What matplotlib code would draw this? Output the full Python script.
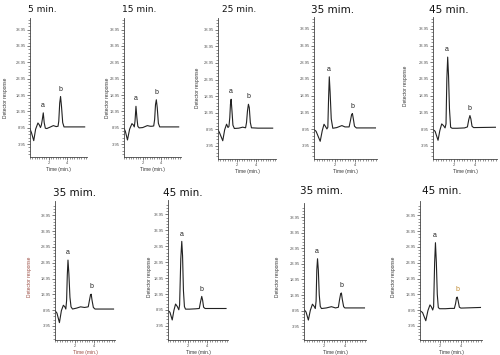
import numpy as np
import matplotlib
matplotlib.use("Agg")
import matplotlib.pyplot as plt
from matplotlib.ticker import FixedLocator, MultipleLocator

plt.rcParams['font.family'] = ['Liberation Sans', 'DejaVu Sans']

# ---------------- data ----------------
titles = ["5 min.", "15 min.", "25 min.", "35 mim.", "45 min.",
          "35 mim.", "45 min.", "35 mim.", "45 min."]

ytick_values = [3.95, 8.95, 13.95, 18.95, 23.95, 28.95, 33.95, 38.95]
ytick_labels = ["3.95", "8.95", "13.95", "18.95", "23.95", "28.95", "33.95", "38.95"]
xtick_values = [2, 4]
xtick_labels = ["2", "4"]

t1 = [0.0, 0.15, 0.4, 0.6, 0.85, 1.0, 1.12, 1.22, 1.32, 1.42, 1.52, 1.64, 1.8, 2.2, 2.5, 2.8, 3.0, 3.08, 3.18, 3.27, 3.37, 3.5, 3.64, 4.5, 5.85]
y1 = [8.6, 7.5, 5.0, 8.5, 10.4, 9.8, 9.0, 9.8, 11.5, 13.5, 10.5, 8.8, 8.7, 9.2, 9.6, 9.3, 9.4, 11.0, 16.5, 18.5, 15.5, 10.5, 9.2, 9.2, 9.2]

t2 = [0.0, 0.15, 0.37, 0.6, 0.85, 1.0, 1.1, 1.18, 1.28, 1.38, 1.48, 1.62, 2.0, 2.5, 2.8, 3.0, 3.18, 3.28, 3.37, 3.46, 3.56, 3.68, 3.82, 4.5, 5.85]
y2 = [8.8, 7.8, 5.2, 8.5, 10.2, 9.8, 9.2, 11.0, 15.5, 12.0, 9.4, 8.9, 9.0, 9.6, 9.4, 9.4, 9.5, 11.5, 16.0, 17.5, 15.0, 10.3, 9.2, 9.2, 9.2]

t3 = [0.0, 0.15, 0.5, 0.7, 0.9, 1.05, 1.15, 1.24, 1.31, 1.38, 1.47, 1.57, 1.72, 2.2, 2.6, 2.9, 3.0, 3.1, 3.2, 3.29, 3.4, 3.52, 4.2, 5.75]
y3 = [8.8, 8.0, 5.5, 8.8, 10.5, 9.5, 9.8, 12.5, 16.5, 18.0, 14.5, 10.2, 9.2, 9.3, 9.6, 9.4, 11.0, 14.5, 16.5, 15.5, 11.0, 9.4, 9.3, 9.3]

t4 = [0.0, 0.2, 0.6, 0.8, 0.97, 1.1, 1.25, 1.34, 1.41, 1.48, 1.56, 1.67, 1.82, 2.2, 2.7, 3.0, 3.4, 3.53, 3.64, 3.72, 3.81, 3.92, 4.1, 5.95]
y4 = [8.8, 8.3, 5.3, 8.5, 10.4, 9.8, 9.0, 9.5, 18.0, 24.6, 20.0, 12.0, 9.2, 9.4, 10.0, 9.6, 9.6, 11.5, 13.3, 13.6, 12.0, 9.8, 9.3, 9.3]

t5 = [0.0, 0.2, 0.48, 0.65, 0.83, 1.0, 1.15, 1.24, 1.32, 1.4, 1.48, 1.57, 1.68, 1.82, 2.3, 3.0, 3.28, 3.41, 3.52, 3.61, 3.72, 3.87, 5.95]
y5 = [8.8, 8.3, 5.6, 8.5, 10.5, 10.0, 9.3, 10.5, 24.0, 30.5, 25.0, 15.0, 9.5, 9.2, 9.2, 9.3, 9.6, 11.8, 13.0, 12.0, 9.8, 9.4, 9.5]

t6 = [0.0, 0.2, 0.45, 0.65, 0.85, 1.0, 1.1, 1.18, 1.25, 1.32, 1.41, 1.52, 1.63, 1.78, 2.2, 2.6, 3.0, 3.38, 3.5, 3.61, 3.68, 3.77, 3.9, 4.07, 5.95]
y6 = [8.8, 8.0, 5.0, 8.8, 10.5, 10.0, 9.3, 12.0, 20.0, 24.8, 20.5, 13.0, 10.0, 9.3, 9.6, 10.0, 9.8, 10.0, 12.0, 13.8, 14.0, 12.0, 9.8, 9.3, 9.3]

t7 = [0.0, 0.2, 0.43, 0.6, 0.77, 0.95, 1.1, 1.18, 1.3, 1.4, 1.48, 1.57, 1.67, 1.78, 2.2, 2.8, 3.18, 3.31, 3.43, 3.52, 3.62, 3.77, 5.9]
y7 = [8.8, 8.2, 5.8, 8.8, 10.8, 10.0, 9.0, 10.5, 25.0, 30.5, 26.0, 15.0, 10.0, 9.2, 9.2, 9.3, 9.4, 11.5, 13.2, 12.0, 9.8, 9.4, 9.4]

t8 = [0.0, 0.2, 0.43, 0.62, 0.83, 1.0, 1.11, 1.19, 1.26, 1.33, 1.41, 1.5, 1.6, 1.72, 2.2, 2.7, 3.1, 3.38, 3.5, 3.61, 3.68, 3.77, 3.9, 4.02, 5.95]
y8 = [9.3, 8.5, 5.9, 9.0, 11.0, 10.3, 9.6, 12.0, 22.0, 25.6, 22.0, 14.0, 10.3, 9.6, 9.8, 10.2, 9.8, 10.0, 12.5, 14.4, 14.6, 12.5, 10.2, 9.8, 9.8]

t9 = [0.0, 0.25, 0.57, 0.78, 0.98, 1.12, 1.25, 1.34, 1.44, 1.52, 1.61, 1.7, 1.8, 1.92, 2.5, 3.0, 3.38, 3.5, 3.59, 3.66, 3.75, 3.87, 4.02, 5.95]
y9 = [8.8, 8.2, 5.6, 8.8, 10.6, 10.0, 9.0, 10.0, 24.0, 30.3, 24.0, 14.0, 9.8, 9.4, 9.4, 9.5, 9.5, 11.0, 12.8, 13.1, 12.0, 9.9, 9.6, 9.8]

times = [t1, t2, t3, t4, t5, t6, t7, t8, t9]
responses = [y1, y2, y3, y4, y5, y6, y7, y8, y9]

# ---------------- layout (pixels in a 500x355 figure) ----------------
W, H = 500, 355
# left, right, top, bottom of each plotting area
rects = [(30, 87, 18, 157), (124, 181, 18, 157), (218, 276, 18, 159),
         (314, 377, 17, 159), (433, 497, 17, 159),
         (55, 115, 201, 340), (168, 228, 200, 340), (304, 366, 203, 340),
         (420, 482, 201, 340)]
title_pos = [(42, 10, 6.5), (139, 10, 6.5), (239, 10, 6.5), (333, 10, 7.5), (449, 10, 7.5),
             (75, 193, 7.5), (183, 193, 7.5), (322, 191, 7.5), (442, 191, 7.5)]
ylabel_pos = [(6, 98), (107, 98), (197, 88), None, (405, 86),
              (30, 277), (150, 277), (277, 277), (393, 277)]
ylims = [(0, 42.5)] * 5 + [(-0.5, 43.5)] * 4
label_colors = ['#333333'] * 5 + ['#9a4a40'] + ['#333333'] * 3
b_colors = ['#222222'] * 8 + ['#c08a30']

line_col = '#222222'
fig = plt.figure(figsize=(W / 100, H / 100), dpi=100)

for i in range(9):
    L, R, T, B = rects[i]
    ax = fig.add_axes([L / W, 1 - B / H, (R - L) / W, (B - T) / H])
    t = np.array(times[i])
    y = np.array(responses[i])
    ax.plot(t, y, color=line_col, lw=0.8)
    ax.set_xlim(0, 6.1)
    ax.set_ylim(*ylims[i])
    for s in ['top', 'right']:
        ax.spines[s].set_visible(False)
    for s in ['left', 'bottom']:
        ax.spines[s].set_linewidth(0.6)
        ax.spines[s].set_color('#444444')
    ax.yaxis.set_major_locator(FixedLocator(ytick_values))
    ax.set_yticklabels(ytick_labels)
    ax.yaxis.set_minor_locator(FixedLocator(list(np.arange(-0.05, 42, 1.0))))
    ax.xaxis.set_major_locator(FixedLocator(xtick_values))
    ax.set_xticklabels(xtick_labels)
    ax.xaxis.set_minor_locator(MultipleLocator(0.25))
    ax.tick_params(which='major', length=2, width=0.5, labelsize=3, pad=1,
                   colors='#444444', labelcolor='#555555')
    ax.tick_params(which='minor', length=1.2, width=0.4, colors='#444444')
    ax.set_xlabel("Time (min.)", fontsize=3.5, labelpad=1.0, color=label_colors[i])
    ax.patch.set_alpha(0)

    # peak labels
    ia = int(np.argmax(np.where(t < 2.5, y, -1)))
    ib = int(np.argmax(np.where(t > 2.5, y, -1)))
    ax.text(t[ia] - 0.05, y[ia] + 1.2, "a", fontsize=5, ha='center', va='bottom', color='#222222')
    ax.text(t[ib], y[ib] + 1.2, "b", fontsize=5, ha='center', va='bottom', color=b_colors[i])

    tx, ty, ts = title_pos[i]
    fig.text(tx / W, 1 - ty / H, titles[i], fontsize=ts, ha='center', va='center',
             family='DejaVu Sans', color='#111111')
    if ylabel_pos[i] is not None:
        lx, ly = ylabel_pos[i]
        fig.text(lx / W, 1 - ly / H, "Detector response", fontsize=3.5, rotation=90,
                 ha='center', va='center', color=label_colors[i])

fig.savefig("out.png", dpi=100)
